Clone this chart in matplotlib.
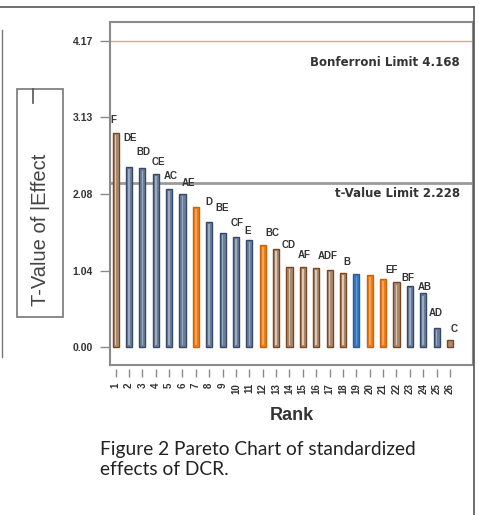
import matplotlib
matplotlib.use('Agg')
import matplotlib.pyplot as plt
from matplotlib.patches import Rectangle
from matplotlib.lines import Line2D

# Pareto chart data (rank order)
ranks = list(range(1, 27))
t_values = [2.91, 2.45, 2.43, 2.35, 2.15, 2.08, 1.91, 1.70, 1.555, 1.50,
            1.46, 1.39, 1.34, 1.09, 1.09, 1.08, 1.05, 1.01, 0.99, 0.98,
            0.93, 0.88, 0.83, 0.73, 0.26, 0.09]
effects = ['F', 'DE', 'BD', 'CE', 'AC', 'AE', 'D', 'BE', 'CF', 'E',
           '', 'BC', 'CD', 'AF', '', 'ADF', 'B', '', '', '',
           'EF', 'BF', '', 'AB', 'AD', 'C']
groups = ['brown', 'slate', 'slate', 'slate', 'slate', 'slate', 'orange', 'slate', 'slate', 'slate',
          'slate', 'orange', 'brown', 'brown', 'brown', 'brown', 'brown', 'brown', 'blue', 'orange',
          'orange', 'brown', 'slate', 'slate', 'slate', 'brown']
ytick_vals = [0.00, 1.04, 2.08, 3.13, 4.17]
bonferroni = 4.168
t_limit = 2.228

face = {'brown': '#a98a70', 'slate': '#6c7f98', 'orange': '#f07d14', 'blue': '#3a78c4'}
edge = {'brown': '#7e4520', 'slate': '#34496a', 'orange': '#c9640c', 'blue': '#2a5c98'}
shine = {'brown': '#d9c9b8', 'slate': '#9aaabf', 'orange': '#f6a25a', 'blue': '#5d96d8'}

# label offsets (px right, px up) from each bar top
label_off = [(-2, 13), (1, 29), (1, 16), (3, 12), (2, 13), (6, 11), (13, 5), (13, 14), (14, 10), (12, 6),
             (0, 0), (10, 12), (13, 4), (15, 12), (0, 0), (11, 12), (17, 8), (0, 0), (0, 0), (0, 0),
             (8, 9), (11, 4), (0, 0), (2, 6), (-1, 15), (4, 11)]

fig = plt.figure(figsize=(4.79, 5.15), dpi=100)
W, H = 479.0, 515.0
ax = fig.add_axes([110 / W, 1 - 365 / H, 363 / W, 343 / H])

# detached x ticks: move bottom spine outward (do this first, it resets ticks)
ax.spines['bottom'].set_position(('outward', 3))
ax.spines['bottom'].set_color('none')
for s in ['left', 'top', 'right']:
    ax.spines[s].set_color('#8a8a8a')
    ax.spines[s].set_linewidth(1.5)
ax.plot([0, 1], [0, 0], transform=ax.transAxes, color='#8a8a8a', lw=1.5, clip_on=False)

for r, v, g in zip(ranks, t_values, groups):
    ax.bar(r, v, width=0.46, color=face[g], edgecolor=edge[g], linewidth=1.0, zorder=3)
    # light inner stripe like the 3D-shaded bars
    if v > 0.15:
        ax.bar(r, v - 0.06, bottom=0.03, width=0.12, color=shine[g], linewidth=0, zorder=3.5)

for r, v, lab, (dx, dy) in zip(ranks, t_values, effects, label_off):
    if lab:
        ax.annotate(lab, xy=(r, v), xytext=(dx * 0.72, dy * 0.72), textcoords='offset points',
                    ha='center', va='center', fontsize=7, fontweight='bold', color='#333333',
                    family='Liberation Sans', zorder=4)

ax.axhline(bonferroni, color='#f09a9a', lw=1.0, zorder=2)
ax.axhline(t_limit, color='#9a9a9a', lw=2.0, zorder=2)
ax.annotate('Bonferroni Limit 4.168', xy=(0.964, bonferroni), xycoords=ax.get_yaxis_transform(),
            xytext=(0, -16), textcoords='offset points', ha='right', va='center',
            fontsize=8.5, fontweight='bold', color='#333333', family='DejaVu Sans')
ax.annotate('t-Value Limit 2.228', xy=(0.964, t_limit), xycoords=ax.get_yaxis_transform(),
            xytext=(0, -7.5), textcoords='offset points', ha='right', va='center',
            fontsize=8.5, fontweight='bold', color='#333333', family='DejaVu Sans')

ax.set_xlim(0.58, 27.72)
ax.set_ylim(-0.245, 4.422)
ax.set_yticks(ytick_vals)
ax.set_yticklabels(['%.2f' % v for v in ytick_vals], fontsize=7.5, fontweight='bold',
                   family='Liberation Sans', color='#333333')
ax.set_xticks(ranks)
ax.set_xticklabels([str(r) for r in ranks], rotation=90, fontsize=7, fontweight='bold',
                   family='Liberation Sans', color='#333333')

ax.tick_params(axis='y', direction='out', length=7.2, width=1.0, color='#8a8a8a', pad=5)
ax.tick_params(axis='x', direction='out', length=5.8, width=1.0, color='#8a8a8a', pad=4)

ax.set_xlabel('Rank', fontsize=13, fontweight='bold', color='#333333', family='Liberation Sans')
ax.xaxis.set_label_coords(0.5, (365 - 415) / 343.0)
ax.xaxis.label.set_va('center')

# y label in its own box
fig.patches.append(Rectangle((17 / W, 1 - 317 / H), 46 / W, 228 / H, transform=fig.transFigure,
                             fill=False, edgecolor='#777777', lw=1.2))
fig.text(41 / W, 1 - 230 / H, 'T-Value of |Effect', rotation=90, ha='center', va='center',
         fontsize=14.5, color='#444444', family='Liberation Sans')
fig.lines.append(Line2D([33 / W, 33 / W], [1 - 89 / H, 1 - 103 / H], transform=fig.transFigure,
                        color='#555555', lw=1.2))

# page border lines
fig.lines.append(Line2D([0, 474 / W], [1 - 7 / H, 1 - 7 / H], transform=fig.transFigure, color='#555555', lw=1.2))
fig.lines.append(Line2D([474 / W, 474 / W], [1 - 7 / H, 0], transform=fig.transFigure, color='#555555', lw=1.2))
fig.lines.append(Line2D([1.5 / W, 1.5 / W], [1 - 30 / H, 1 - 357 / H], transform=fig.transFigure, color='#777777', lw=1.0))

# caption
fig.text(100 / W, 1 - 455 / H, 'Figure 2 Pareto Chart of standardized', ha='left', va='baseline',
         fontsize=13.8, color='#222222', family='Lato')
fig.text(100 / W, 1 - 475 / H, 'effects of DCR.', ha='left', va='baseline',
         fontsize=13.8, color='#222222', family='Lato')

fig.savefig('out.png', dpi=100)
